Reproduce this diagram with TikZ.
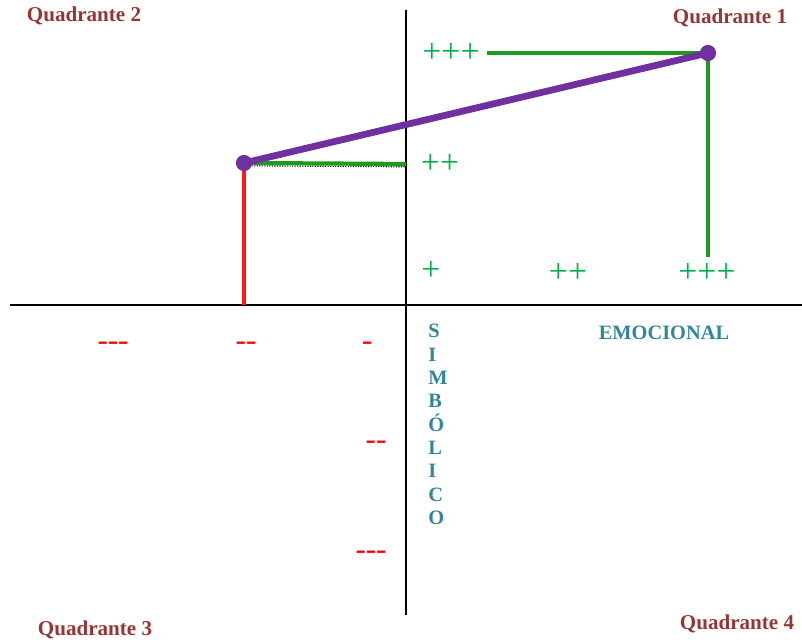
\documentclass[tikz,border=0pt]{standalone}
\usepackage{xcolor}
\usepackage{fontspec}
\setmainfont{Liberation Serif}
\usepackage{tikz}
\usetikzlibrary{positioning}

\definecolor{quadred}{HTML}{943634}
\definecolor{axisblue}{HTML}{31859C}
\definecolor{signgreen}{HTML}{00B050}
\definecolor{linegreen}{HTML}{1E9A1E}
\definecolor{linered}{HTML}{FF1A1A}
\definecolor{linepurple}{HTML}{7030A0}

\begin{document}
\begin{tikzpicture}[
    x=0.025cm, y=-0.025cm,
    % Define styles for the labels and lines
    quadlabel/.style={text=quadred, font=\fontsize{15}{17}\selectfont\bfseries, inner sep=0pt},
    axislabel/.style={text=axisblue, font=\fontsize{14.5}{16.6}\selectfont\bfseries, inner sep=0pt},
    plussign/.style={text=signgreen, font=\fontsize{24}{26}\selectfont, inner sep=0pt},
    minussign/.style={text=red, font=\fontsize{22}{26}\selectfont, inner sep=0pt},
    axis/.style={black, line width=2pt},
    greenline/.style={linegreen, line width=3pt},
    redline/.style={linered, line width=3.5pt},
    purpleline/.style={linepurple, line width=4.8pt},
    dot/.style={circle, fill=linepurple, minimum size=11.5pt, inner sep=0pt}
]
    \useasboundingbox (0,0) rectangle (802,642);

    % Define the axis end points
    \coordinate (xleft) at (10,305);
    \coordinate (xright) at (802,305);
    \coordinate (ytop) at (406,10);
    \coordinate (ybottom) at (406,615);

    % Define the points of the two profiles
    \coordinate (high) at (708,53);
    \coordinate (low) at (244,163);
    \coordinate (highfoot) at (708,257);
    \coordinate (highleft) at (487,53);
    \coordinate (lowfoot) at (244,305);
    \coordinate (lowright) at (406,164);

    % Draw the axes
    \draw[axis] (xleft) -- (xright);
    \draw[axis] (ytop) -- (ybottom);

    % Draw the projections
    \draw[black, densely dotted, line width=0.8pt] ([yshift=-2pt]low) -- ([yshift=-2pt]lowright);
    \draw[greenline] (low) -- (lowright);
    \draw[redline] (low) -- (lowfoot);
    \draw[greenline] (highleft) -- (high);
    \draw[greenline] (high) -- (highfoot);
    \draw[purpleline] (low) -- (high);
    \node[dot] (lowdot) at (low) {};
    \node[dot] (highdot) at (high) {};

    % Quadrant names
    \node[quadlabel] (quad2) at (84,16) {Quadrante 2};
    \node[quadlabel] (quad1) at (730,18) {Quadrante 1};
    \node[quadlabel] (quad3) at (95,630) {Quadrante 3};
    \node[quadlabel] (quad4) at (737,624) {Quadrante 4};

    % Axis names
    \node[axislabel] (emocional) at (664,333) {EMOCIONAL};
    \node[axislabel, align=left, anchor=north west] (simbolico) at (428,324)
        {S\\I\\M\\B\\Ó\\L\\I\\C\\O};

    % Plus signs
    \node[plussign] (plusthree) at (451,53) {+++};
    \node[plussign] (plustwo) at (440,164) {++};
    \node[plussign] (plusone) at (431,271) {+};
    \node[plussign] (xplustwo) at (568,273) {++};
    \node[plussign] (xplusthree) at (707,273) {+++};

    % Minus signs
    \node[minussign] (minusthree) at (113,346) {-{}-{}-};
    \node[minussign] (minustwo) at (246,346) {-{}-};
    \node[minussign] (minusone) at (367,346) {-};
    \node[minussign] (yminustwo) at (376,445) {-{}-};
    \node[minussign] (yminusthree) at (371,555) {-{}-{}-};
\end{tikzpicture}
\end{document}
